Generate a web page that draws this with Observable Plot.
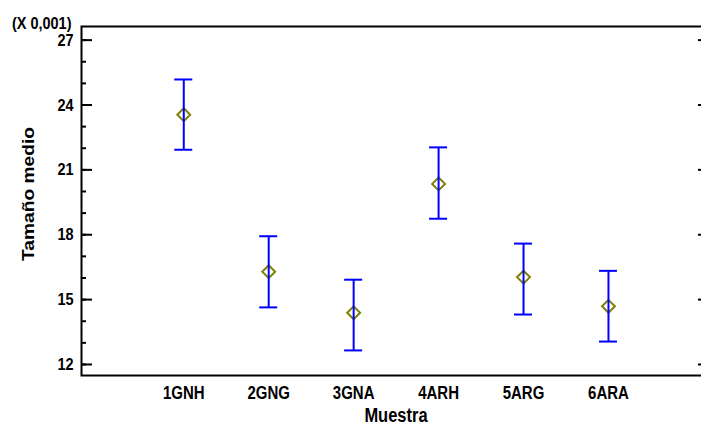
<!DOCTYPE html>
<html>
<head>
<meta charset="utf-8">
<script src="https://cdn.jsdelivr.net/npm/d3@7"></script>
<script src="https://cdn.jsdelivr.net/npm/@observablehq/plot@0.6"></script>
<style>
  html, body { margin: 0; padding: 0; background: white; }
  #chart svg { display: block; }
</style>
</head>
<body>
<div id="chart"></div>
<script>
const categories = ["1GNH", "2GNG", "3GNA", "4ARH", "5ARG", "6ARA"];
const means  = [23.55, 16.29, 14.39, 20.35, 16.04, 14.69];
const lowers = [21.93, 14.64, 12.65, 18.74, 14.31, 13.06];
const uppers = [25.18, 17.93, 15.92, 22.04, 17.59, 16.33];
const majorTicks = [12, 15, 18, 21, 24, 27];
const minorTicks = [12, 13, 14, 15, 16, 17, 18, 19, 20, 21, 22, 23, 24, 25, 26, 27];
const xTitle = "Muestra";
const yTitle = "Tamaño medio";
const yMultiplier = "(X 0,001)";

const data = categories.map((c, k) => ({cat: c, pos: k + 1, mean: means[k], lower: lowers[k], upper: uppers[k]}));

const W = 701, H = 428, ML = 81, MR = -1, MT = 26, MB = 53;
const innerW = W - ML - MR;
const font = "'Liberation Sans', Arial, sans-serif";
const blue = "#0000ff";
const olive = "#808000";

const chart = Plot.plot({
  width: W, height: H,
  marginLeft: ML, marginRight: MR, marginTop: MT, marginBottom: MB,
  style: {fontFamily: font, fontWeight: "bold", fontSize: "15px", color: "black", background: "white", overflow: "visible"},
  x: {type: "linear", domain: [-0.204, 7.107], axis: null},
  y: {domain: [11.49, 27.63], axis: null},
  marks: [
    // y tick labels
    Plot.axisY(majorTicks, {anchor: "left", tickSize: 0, tickPadding: 8, label: null, fontSize: 14.5, fontWeight: "bold", fill: "black"}),
    // x tick labels
    Plot.axisX(data.map(d => d.pos), {anchor: "bottom", tickSize: 0, tickPadding: 11, label: null, tickFormat: p => categories[p - 1], fontSize: 15, fontWeight: "bold", fill: "black"}),
    // inner tick marks on left
    Plot.tickY(minorTicks, {y: d => d, stroke: "black", strokeWidth: 2, insetRight: innerW - 5}),
    Plot.tickY(majorTicks, {y: d => d, stroke: "black", strokeWidth: 2, insetRight: innerW - 11}),
    // right side ticks
    Plot.tickY(majorTicks, {y: d => d, stroke: "black", strokeWidth: 2, insetLeft: innerW - 4}),
    Plot.frame({stroke: "black", strokeWidth: 2}),
    // means
    Plot.dot(data, {x: "pos", y: "mean", symbol: "diamond2", r: 5.8, stroke: olive, strokeWidth: 2, fill: "none"}),
    // error bars
    Plot.ruleX(data, {x: "pos", y1: "lower", y2: "upper", stroke: blue, strokeWidth: 2}),
    Plot.ruleY(data, {y: "upper", x1: "pos", x2: "pos", insetLeft: -9, insetRight: -9, stroke: blue, strokeWidth: 2}),
    Plot.ruleY(data, {y: "lower", x1: "pos", x2: "pos", insetLeft: -9, insetRight: -9, stroke: blue, strokeWidth: 2}),
    // titles
    Plot.text([xTitle], {frameAnchor: "bottom", text: d => d, dx: 4, dy: 46.5, lineAnchor: "bottom", textAnchor: "middle", fontSize: 16.5, fontWeight: "bold", fill: "black"}),
    Plot.text([yTitle], {frameAnchor: "left", text: d => d, rotate: -90, dx: -53, dy: -7, lineAnchor: "middle", textAnchor: "middle", fontSize: 16, fontWeight: "bold", fill: "black"}),
    Plot.text([yMultiplier], {frameAnchor: "top-left", text: d => d, dx: -10, dy: 2.3, lineAnchor: "bottom", textAnchor: "end", fontSize: 14.5, fontWeight: "bold", fill: "black"})
  ]
});

// the reference's lettering is stretched vertically; reproduce that
chart.querySelectorAll("text").forEach(t => {
  const tr = t.getAttribute("transform") || "";
  if (/rotate/.test(tr)) t.setAttribute("transform", tr + " scale(1.2,1)");
  else t.setAttribute("transform", tr + " scale(1,1.2)");
});

document.getElementById("chart").appendChild(chart);
</script>
</body>
</html>
